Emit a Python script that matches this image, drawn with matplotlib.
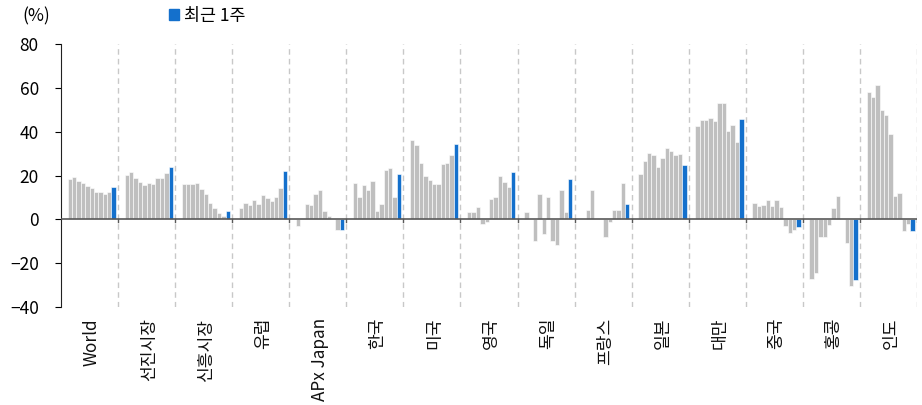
import numpy as np
import matplotlib
matplotlib.use("Agg")
import matplotlib.pyplot as plt
from matplotlib.patches import Patch

plt.rcParams["font.family"] = ["Noto Sans CJK KR", "DejaVu Sans"]

# ===============================================
# Data (%), 10 weekly values + latest week (last)
# ===============================================
groups = ["World", "선진시장", "신흥시장", "유럽", "APx Japan", "한국", "미국",
          "영국", "독일", "프랑스", "일본", "대만", "중국", "홍콩", "인도"]

world = [18.2, 19.1, 17.6, 16.7, 15.2, 14.3, 12.3, 12.6, 11.7, 12.3, 14.9]
dm = [20.2, 21.6, 18.7, 17.0, 15.8, 16.7, 16.2, 19.0, 19.0, 21.3, 24.1]
em = [16.1, 16.1, 16.1, 16.7, 14.0, 11.4, 7.3, 5.0, 3.0, 1.7, 3.6]
europe = [5.3, 7.3, 6.5, 8.7, 6.8, 11.2, 9.7, 8.2, 10.3, 14.4, 21.9]
apxj = [-3.2, 0.6, 7.0, 6.4, 11.7, 13.2, 3.8, 1.4, 0.2, -4.9, -4.9]
korea = [16.4, 10.2, 15.5, 13.4, 17.5, 3.9, 7.1, 22.5, 23.5, 10.2, 20.5]
usa = [36.0, 33.9, 25.8, 19.7, 17.8, 15.9, 16.1, 25.2, 25.5, 29.2, 34.6]
uk = [3.3, 3.3, 5.8, -2.3, -1.2, 9.3, 10.3, 19.6, 17.2, 14.9, 21.7]
germany = [3.3, 0.0, -10.0, 11.7, -6.7, 10.0, -10.0, -11.7, 13.4, 3.3, 18.2]
france = [0.0, 4.1, 13.5, 0.0, 0.0, -8.0, -1.2, 4.1, 4.1, 16.4, 6.8]
japan = [20.8, 26.6, 30.2, 29.2, 23.7, 28.2, 32.6, 31.3, 29.2, 29.9, 24.9]
taiwan = [42.7, 45.4, 45.4, 46.2, 45.0, 53.2, 53.2, 40.5, 43.0, 35.4, 45.7]
china = [7.4, 6.1, 6.7, 9.0, 6.2, 9.0, 5.5, -3.2, -6.1, -5.0, -3.3]
hongkong = [-27.0, -24.4, -8.2, -8.2, -2.6, 5.3, 10.8, 0.0, -10.6, -30.5, -27.8]
india = [58.2, 55.9, 61.4, 49.7, 47.4, 38.9, 10.8, 11.8, -5.3, -2.3, -5.3]

series = [world, dm, em, europe, apxj, korea, usa, uk, germany, france,
          japan, taiwan, china, hongkong, india]

GRAY = "#bfbfbf"
BLUE = "#1470cc"
slot = 13  # slots per group

fig = plt.figure(figsize=(9.22, 4.05), dpi=100)
ax = fig.add_axes([61 / 922, 98 / 405, 856 / 922, 263 / 405])

for g, vals in enumerate(series):
    x = g * slot + 2 + np.arange(len(vals))
    colors = [GRAY] * (len(vals) - 1) + [BLUE]
    ax.bar(x, vals, width=1.0, color=colors, edgecolor="white", linewidth=0.4)

# dashed separators between groups
for g in range(1, len(groups) + 1):
    ax.axvline(g * slot, color="#c8c8c8", linestyle=(0, (4, 3)), linewidth=1, zorder=0)

ax.axhline(0, color="#595959", linewidth=1.2, zorder=3)
for g in range(1, len(groups) + 1):
    ax.plot([g * slot, g * slot], [0, -1.3], color="#595959", linewidth=1, zorder=3)

ax.set_xlim(0, slot * len(groups))
ax.set_ylim(-40, 80)
ax.set_yticks(range(-40, 81, 20))
ax.tick_params(axis="y", labelsize=12.5, length=4, direction="out", pad=12)
ax.set_xticks([])

for s in ["top", "right", "bottom"]:
    ax.spines[s].set_visible(False)
ax.spines["left"].set_color("#222222")

# category labels (rotated)
for g, name in enumerate(groups):
    ax.text(g * slot + 7, -45, name, rotation=90, ha="center", va="top",
            fontsize=12.3, color="#111111")

fig.text(22 / 922, 1 - 16 / 405, "(%)", fontsize=12.5, va="center", ha="left")
fig.legend(handles=[Patch(color=BLUE)], labels=["최근 1주"],
           loc="center left", bbox_to_anchor=(160 / 922, 1 - 16 / 405),
           frameon=False, fontsize=12.5, handlelength=0.6, handleheight=0.6,
           handletextpad=0.3, borderpad=0)

plt.savefig("out.png", dpi=100)
